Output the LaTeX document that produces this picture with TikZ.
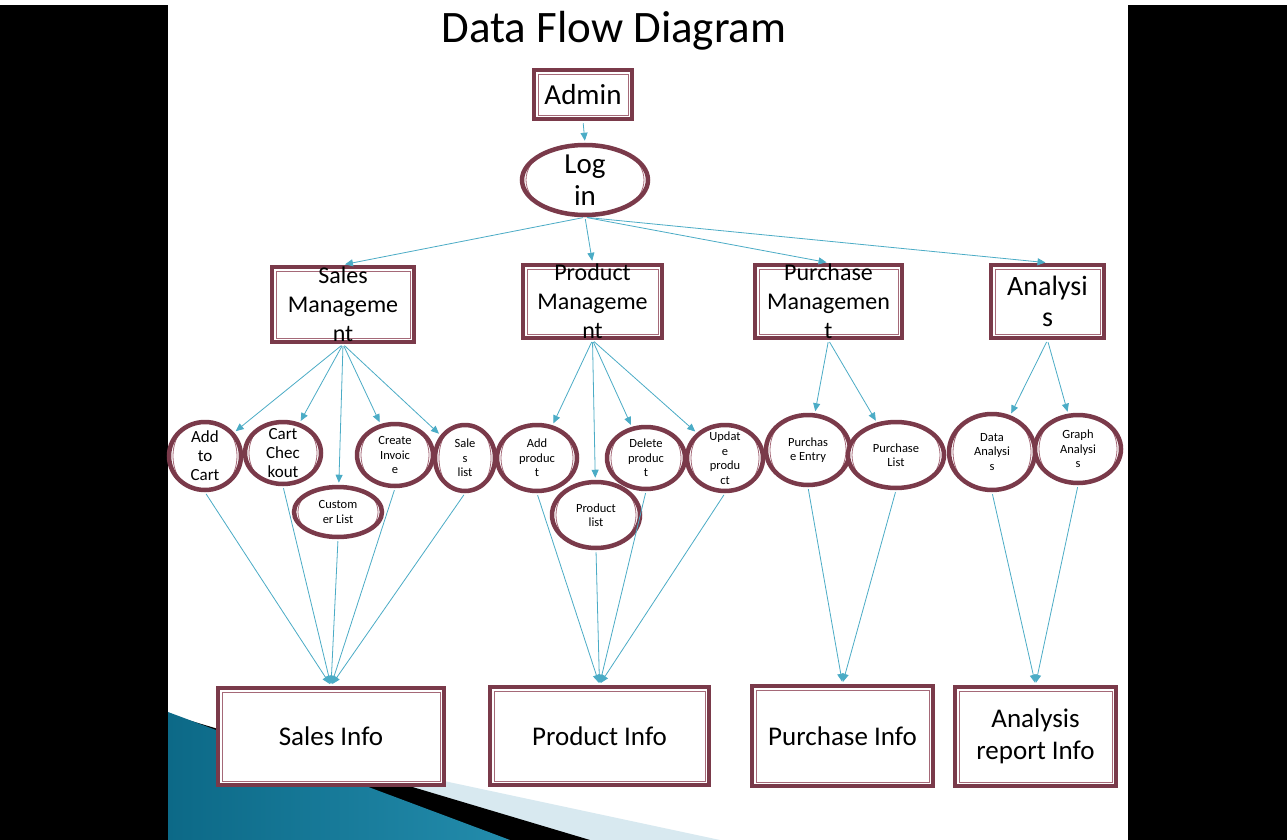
\documentclass[tikz,border=0pt]{standalone}
\usepackage{fontspec}
\setmainfont{Carlito}
\usetikzlibrary{shapes.geometric,arrows.meta,calc}
\definecolor{maroon}{RGB}{122,58,74}
\definecolor{maroonlt}{RGB}{165,105,120}
\definecolor{flow}{RGB}{75,172,198}
\definecolor{tealA}{RGB}{12,105,135}
\definecolor{tealB}{RGB}{80,182,212}
\definecolor{tealC}{RGB}{35,140,172}
\definecolor{paleblue}{RGB}{216,233,240}
\tikzset{
  innerline/.style={draw=maroonlt, line width=0.8pt},
  box/.style={rectangle, draw=maroon, line width=4.5pt, fill=white, inner sep=0pt,
    path picture={\draw[innerline] ([shift={(4pt,4pt)}]path picture bounding box.south west) rectangle ([shift={(-4pt,-4pt)}]path picture bounding box.north east);}},
  oval/.style={ellipse, draw=maroon, line width=4.5pt, fill=white, inner sep=0pt,
    path picture={\draw[innerline] let \p1=(path picture bounding box.north east), \p2=(path picture bounding box.center) in (\p2) ellipse ({\x1-\x2-4pt} and {\y2-\y1-4pt});}},
  txt/.style={align=center, inner sep=0pt, text=black},
  flowline/.style={draw=flow, line width=0.8pt, -{Triangle[length=8pt,width=7pt]}, shorten >=2pt, shorten <=2pt},
  fbig/.style={font=\fontsize{29}{32}\selectfont},
  fmid/.style={font=\fontsize{24}{29}\selectfont},
  fan/.style={font=\fontsize{28}{31}\selectfont},
  fl/.style={font=\fontsize{17}{19}\selectfont},
  fs/.style={font=\fontsize{12.5}{14.5}\selectfont},
  fbot/.style={font=\fontsize{27}{32}\selectfont}
}
\begin{document}
\begin{tikzpicture}[x=1pt,y=-1pt]
\useasboundingbox (0,0) rectangle (1287,840);
\fill[white] (0,0) rectangle (1287,840);
\fill[black] (0,5) rectangle (168,840);
\fill[black] (1128,5) rectangle (1287,840);
% decoration
\fill[paleblue] (168,722) -- (720,840) -- (168,840) -- cycle;
\fill[black] (168,714) -- (590,840) -- (168,840) -- cycle;
\shade[left color=tealA, middle color=tealB, right color=tealC] (168,712) -- (510,840) -- (168,840) -- cycle;

\node[font=\fontsize{45}{50}\selectfont] (title) at (614,31) {Data Flow Diagram};

\node[box, minimum width=98pt, minimum height=49pt, label={[txt,fbig]center:Admin}] (admin) at (583,94.5) {};
\node[oval, minimum width=126pt, minimum height=70pt, label={[txt,fbig]center:{Log\\in}}] (login) at (585,180) {};

\node[box, minimum width=142pt, minimum height=75pt, label={[txt,fmid]center:{Sales\\Manageme\\nt}}] (sm) at (343,304.5) {};
\node[box, minimum width=139pt, minimum height=73pt, label={[txt,fmid]center:{Product\\Manageme\\nt}}] (pm) at (592.5,301.5) {};
\node[box, minimum width=147pt, minimum height=73pt, label={[txt,fmid]center:{Purchase\\Managemen\\t}}] (pum) at (828.5,301.5) {};
\node[box, minimum width=113pt, minimum height=73pt, label={[txt,fan]center:{Analysi\\s}}] (an) at (1047.5,301.5) {};

\node[oval, minimum width=72pt, minimum height=68pt, label={[txt,fl]center:{Add\\to\\Cart}}] (atc) at (205,456) {};
\node[oval, minimum width=76pt, minimum height=62pt, label={[txt,fl]center:{Cart\\Chec\\kout}}] (cc) at (283,453) {};
\node[oval, minimum width=88pt, minimum height=50pt, label={[txt,fs]center:{Custom\\er List}}] (cl) at (338,512) {};
\node[oval, minimum width=76pt, minimum height=62pt, label={[txt,fs]center:{Create\\Invoic\\e}}] (ci) at (395,455) {};
\node[oval, minimum width=60pt, minimum height=66pt, label={[txt,fs]center:{Sale\\s\\list}}] (sl) at (465,458) {};

\node[oval, minimum width=80pt, minimum height=66pt, label={[txt,fs]center:{Add\\produc\\t}}] (ap) at (537,458) {};
\node[oval, minimum width=88pt, minimum height=66pt, label={[txt,fs]center:{Product\\list}}] (pl) at (596,515) {};
\node[oval, minimum width=78pt, minimum height=62pt, label={[txt,fs]center:{Delete\\produc\\t}}] (dp) at (646,458) {};
\node[oval, minimum width=76pt, minimum height=66pt, label={[txt,fs]center:{Updat\\e\\produ\\ct}}] (up) at (725,458) {};

\node[oval, minimum width=84pt, minimum height=70pt, label={[txt,fs]center:{Purchas\\e Entry}}] (pe) at (808,450) {};
\node[oval, minimum width=96pt, minimum height=66pt, label={[txt,fs]center:{Purchase\\List}}] (pli) at (896,455) {};
\node[oval, minimum width=86pt, minimum height=76pt, label={[txt,fs]center:{Data\\Analysi\\s}}] (da) at (992,452) {};
\node[oval, minimum width=86pt, minimum height=68pt, label={[txt,fs]center:{Graph\\Analysi\\s}}] (ga) at (1078,449) {};

\node[box, minimum width=226pt, minimum height=97pt, label={[txt,fbot]center:Sales Info}] (si) at (331,736.5) {};
\node[box, minimum width=219pt, minimum height=98pt, label={[txt,fbot]center:Product Info}] (pi) at (599.5,736) {};
\node[box, minimum width=181pt, minimum height=100pt, label={[txt,fbot]center:Purchase Info}] (pui) at (842.5,736) {};
\node[box, minimum width=161pt, minimum height=99pt, label={[txt,fbot]center:{Analysis\\report Info}}] (ari) at (1035.5,736.5) {};

% connectors
\draw[flowline] (admin.south) -- (login.north);
\foreach \t in {sm,pm,pum,an} \draw[flowline] (login.south) -- (\t.north);
\foreach \t in {atc,cc,cl,ci,sl} \draw[flowline] (sm.south) -- (\t);
\foreach \t in {ap,pl,dp,up} \draw[flowline] (pm.south) -- (\t);
\foreach \t in {pe,pli} \draw[flowline] (pum.south) -- (\t);
\foreach \t in {da,ga} \draw[flowline] (an.south) -- (\t);
\foreach \s in {atc,cc,cl,ci,sl} \draw[flowline] (\s.south) -- (si.north);
\foreach \s in {ap,pl,dp,up} \draw[flowline] (\s.south) -- (pi.north);
\foreach \s in {pe,pli} \draw[flowline] (\s.south) -- (pui.north);
\foreach \s in {da,ga} \draw[flowline] (\s.south) -- (ari.north);
\end{tikzpicture}
\end{document}
